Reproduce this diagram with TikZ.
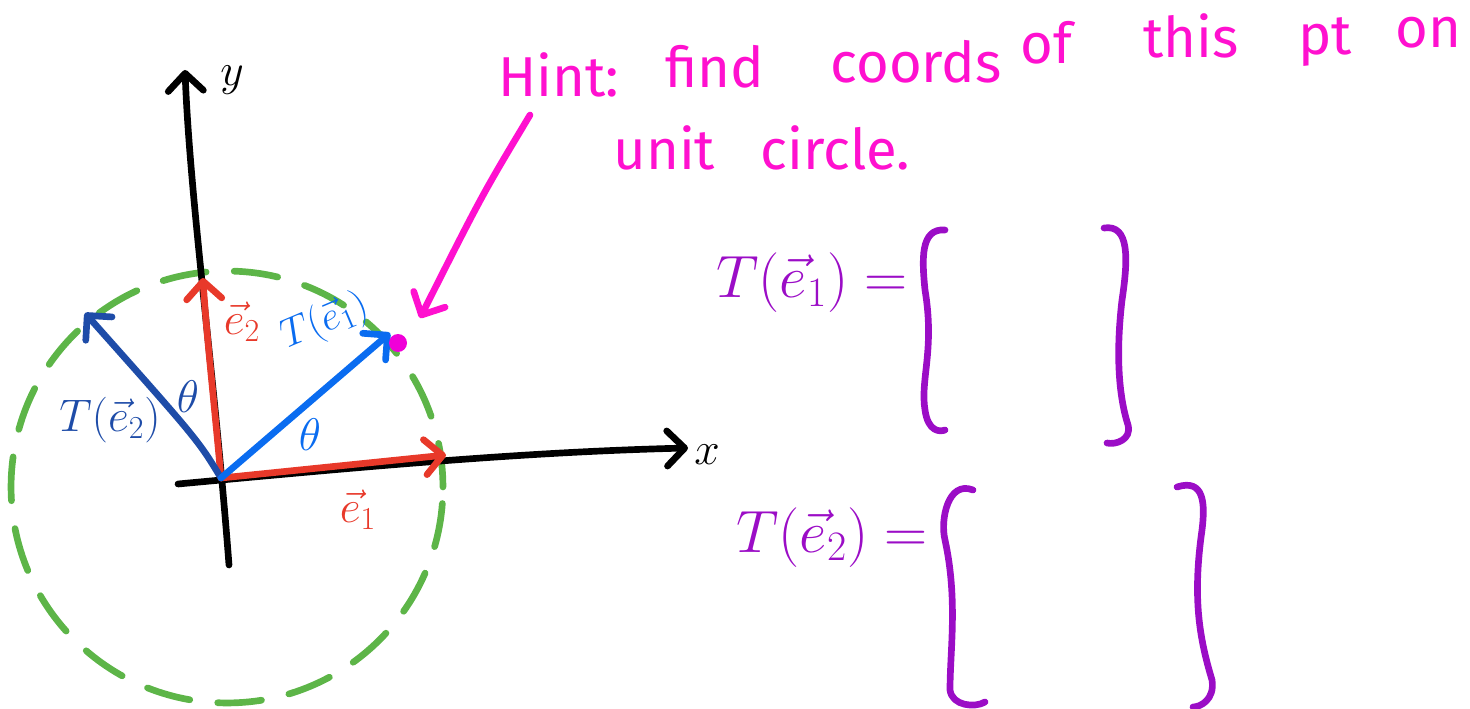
\RequirePackage{fix-cm}
\documentclass[tikz,border=0pt]{standalone}
\usepackage{fontspec}
\setmainfont{Fira Sans}
\usetikzlibrary{arrows.meta}
\definecolor{penred}{HTML}{E8392A}
\definecolor{lblue}{HTML}{0A6CF0}
\definecolor{dblue}{HTML}{1E4CA8}
\definecolor{pgreen}{HTML}{5DB548}
\definecolor{mag}{HTML}{FF10CF}
\definecolor{purp}{HTML}{9B0DC6}
\definecolor{magdot}{HTML}{F000D8}
\begin{document}
\begin{tikzpicture}[x=0.02cm,y=-0.02cm,line cap=round,line join=round,
  pen/.style={line width=3.8pt},
  barb/.style={-{Straight Barb[round,length=10pt,width=20pt]}},
  lbl/.style={inner sep=0pt,font=\fontsize{26}{30}\selectfont},
  big/.style={inner sep=0pt,font=\fontsize{34}{40}\selectfont},
  hint/.style={inner sep=0pt,anchor=base west,text=mag,font=\fontsize{32}{38}\selectfont},
]
\useasboundingbox (0,0) rectangle (1470,709);
% named points
\coordinate (O) at (221,478);
\coordinate (yb) at (229,565);
\coordinate (yt) at (185,70);
\coordinate (xl) at (178,484);
\coordinate (xr) at (688,448);
\coordinate (E1) at (446,455);
\coordinate (E2) at (203,278);
\coordinate (TE1) at (390,333);
\coordinate (TE2) at (85,313);
\coordinate (C) at (227,487);
\coordinate (HA) at (530,115);
\coordinate (HB) at (420,318);

% unit circle
\draw[pgreen,pen,dash pattern=on 25pt off 16pt] (C) circle[radius=4.32cm];

% axes
\draw[pen,barb] (yb) .. controls (215,380) and (190,200) .. (yt);
\draw[pen,barb] (xl) .. controls (350,468) and (520,452) .. (xr);
\node[lbl] (ylab) at (232,80) {$y$};
\node[lbl] (xlab) at (707,455) {$x$};

% vectors
\draw[penred,pen,barb] (O) -- (E1);
\draw[penred,pen,barb] (O) .. controls (214,400) and (206,330) .. (E2);
\draw[dblue,pen,barb] (O) .. controls (198,440) .. (TE2);
\draw[lblue,pen,barb] (O) -- (TE1);
\node[circle,fill=magdot,minimum size=0.36cm,inner sep=0pt] (dot) at (398,343) {};

% labels
\node[lbl,text=penred] (e2lab) at (242,322) {$\vec{e}_2$};
\node[lbl,text=penred] (e1lab) at (358,510) {$\vec{e}_1$};
\node[lbl,text=lblue,rotate=23,font=\fontsize{23}{26}\selectfont] (te1lab) at (325,322) {$T(\vec{e}_1)$};
\node[lbl,text=dblue] (te2lab) at (110,420) {$T(\vec{e}_2)$};
\node[lbl,text=dblue] (th1) at (188,397) {$\theta$};
\node[lbl,text=lblue] (th2) at (310,435) {$\theta$};

% hint (the handwritten line rises to the right)
\node[hint] (w1) at (498,97) {Hint:};
\node[hint] (w2) at (665,88) {find};
\node[hint] (w3) at (830,83) {coords};
\node[hint] (w4) at (1020,64) {of};
\node[hint] (w5) at (1143,58) {this};
\node[hint] (w6) at (1298,55) {pt};
\node[hint] (w7) at (1395,48) {on};
\node[hint] (w8) at (613,170) {unit};
\node[hint] (w9) at (760,170) {circle.};
\draw[mag,pen,barb] (HA) .. controls (482,195) .. (HB);

% equations
\node[big,anchor=base west,text=purp] (eq1) at (716,298) {$T(\vec{e}_1)=$};
\node[big,anchor=base west,text=purp] (eq2) at (736,552) {$T(\vec{e}_2)=$};

\draw[purp,pen] (945,230) .. controls (920,228) and (922,260) .. (925,290)
  .. controls (935,350) and (920,380) .. (925,410) .. controls (928,432) and (940,432) .. (945,430);
\draw[purp,pen] (1104,228) .. controls (1130,224) and (1128,260) .. (1122,300)
  .. controls (1115,360) and (1120,400) .. (1128,425) .. controls (1132,440) and (1115,445) .. (1107,443);
\draw[purp,pen] (973,490) .. controls (948,480) and (940,520) .. (945,540)
  .. controls (958,600) and (950,650) .. (950,690) .. controls (952,706) and (975,708) .. (985,702);
\draw[purp,pen] (1177,487) .. controls (1205,478) and (1205,505) .. (1202,530)
  .. controls (1192,600) and (1200,640) .. (1212,680) .. controls (1215,700) and (1200,707) .. (1193,707);
\end{tikzpicture}
\end{document}
